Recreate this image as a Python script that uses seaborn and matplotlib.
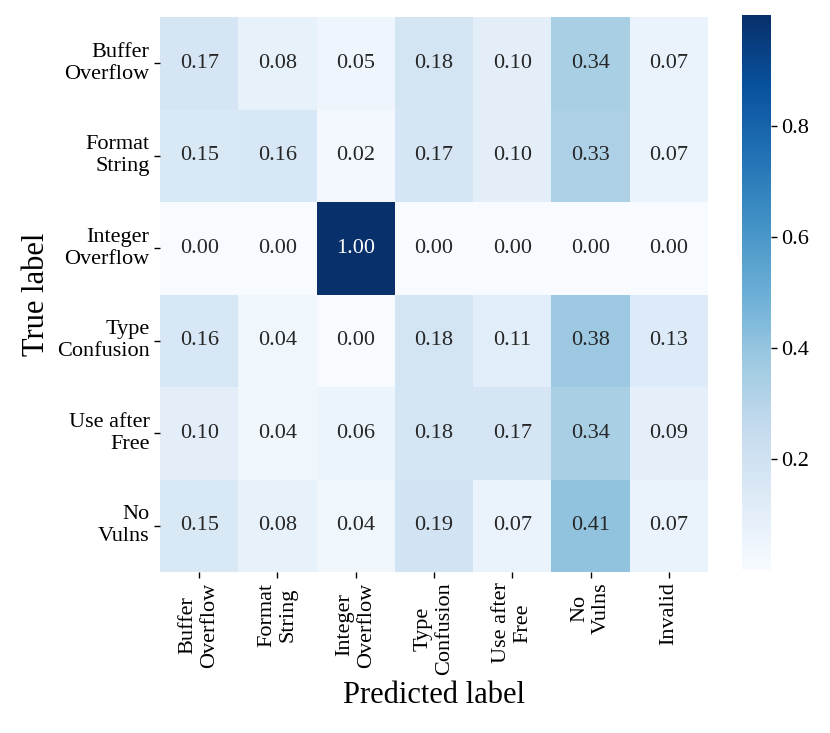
import matplotlib
matplotlib.use("Agg")
import matplotlib.pyplot as plt
import seaborn as sns
import numpy as np
import pandas as pd

plt.rcParams['font.family'] = ['Liberation Serif', 'DejaVu Serif']

true_labels = ["Buffer\nOverflow", "Format\nString", "Integer\nOverflow",
               "Type\nConfusion", "Use after\nFree", "No\nVulns"]
pred_labels = ["Buffer\nOverflow", "Format\nString", "Integer\nOverflow",
               "Type\nConfusion", "Use after\nFree", "No\nVulns", "Invalid"]

row_buffer = [0.17, 0.08, 0.05, 0.18, 0.10, 0.34, 0.07]
row_format = [0.15, 0.16, 0.02, 0.17, 0.10, 0.33, 0.07]
row_integer = [0.00, 0.00, 1.00, 0.00, 0.00, 0.00, 0.00]
row_type = [0.16, 0.04, 0.00, 0.18, 0.11, 0.38, 0.13]
row_uaf = [0.10, 0.04, 0.06, 0.18, 0.17, 0.34, 0.09]
row_novuln = [0.15, 0.08, 0.04, 0.19, 0.07, 0.41, 0.07]

df = pd.DataFrame([row_buffer, row_format, row_integer, row_type, row_uaf, row_novuln],
                  index=true_labels, columns=pred_labels)

fig = plt.figure(figsize=(8.30, 7.33), dpi=100)
ax = fig.add_axes([160/830, 1 - 572/733, (708-160)/830, (572-17)/733])
cax = fig.add_axes([742/830, 1 - 570/733, (771-742)/830, (570-15)/733])

sns.heatmap(df, ax=ax, cbar_ax=cax, cmap="Blues", annot=True, fmt=".2f",
            vmin=0.0, vmax=1.0, annot_kws={"size": 16})

cax.set_yticks([0.2, 0.4, 0.6, 0.8])
cax.tick_params(labelsize=16, length=4, width=1)
for s in cax.spines.values():
    s.set_visible(False)

ax.set_xlabel("Predicted label", fontsize=22)
ax.set_ylabel("True label", fontsize=22)
ax.tick_params(axis='both', labelsize=16, length=4, width=1)
plt.setp(ax.get_xticklabels(), rotation=90, ha='center', va='top', multialignment='center')
plt.setp(ax.get_yticklabels(), rotation=0, ha='right', va='center', multialignment='right')

fig.savefig("out.png", dpi=100)
